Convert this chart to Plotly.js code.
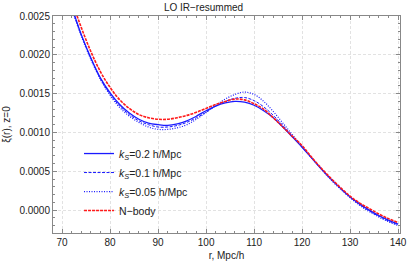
<!DOCTYPE html>
<html>
<head>
<meta charset="utf-8">
<script src="https://cdn.plot.ly/plotly-3.0.1.min.js"></script>
<style>html,body{margin:0;padding:0;background:#fff;}#plot{width:407px;height:265px;}</style>
</head>
<body>
<div id="plot"></div>
<script>
const r = [72,74,76,78,80,82,84,86,88,90,92,94,96,98,100,102,104,106,108,110,112,114,116,118,120,122,124,126,128,130,132,134,136,138,140];
const xiK02 = [0.00262,0.00226,0.00196,0.00170,0.00151,0.00136,0.00125,0.00117,0.00112,0.00110,0.00109,0.00111,0.00115,0.00121,0.00128,0.00134,0.00138,0.00140,0.00139,0.00135,0.00128,0.00119,0.00107,0.00094,0.00081,0.00067,0.00053,0.00040,0.00028,0.00017,0.00008,0.00000,-0.00007,-0.00013,-0.00018];
const xiK01 = [0.00261,0.00225,0.00195,0.00169,0.00149,0.00134,0.00123,0.00115,0.00110,0.00107,0.00107,0.00109,0.00113,0.00119,0.00126,0.00134,0.00140,0.00144,0.00145,0.00141,0.00133,0.00122,0.00109,0.00095,0.00081,0.00067,0.00053,0.00040,0.00028,0.00017,0.00007,-0.00001,-0.00008,-0.00014,-0.00019];
const xiK005 = [0.00260,0.00224,0.00194,0.00168,0.00148,0.00132,0.00121,0.00113,0.00107,0.00104,0.00104,0.00106,0.00110,0.00117,0.00126,0.00135,0.00143,0.00149,0.00152,0.00149,0.00140,0.00127,0.00112,0.00097,0.00082,0.00067,0.00053,0.00039,0.00027,0.00016,0.00006,-0.00002,-0.00009,-0.00015,-0.00020];
const xiNbody = [0.00270,0.00235,0.00204,0.00178,0.00158,0.00142,0.00131,0.00123,0.00119,0.00117,0.00117,0.00119,0.00122,0.00126,0.00131,0.00136,0.00140,0.00143,0.00142,0.00137,0.00130,0.00119,0.00107,0.00095,0.00083,0.00068,0.00054,0.00041,0.00029,0.00018,0.00009,0.00002,-0.00005,-0.00011,-0.00016];
const names = ['<i>k<sub>S</sub></i>=0.2 h/Mpc','<i>k<sub>S</sub></i>=0.1 h/Mpc','<i>k<sub>S</sub></i>=0.05 h/Mpc','N\u2212body'];
const xTicks = [70,80,90,100,110,120,130,140];
const yTicks = [0,0.0005,0.001,0.0015,0.002,0.0025];

const blue = '#1a1aff';
const traces = [
  {x:r, y:xiK02, name:names[0], legendgroup:'a', mode:'lines', line:{color:blue, width:1.3, shape:'spline'}},
  {x:r, y:xiK01, name:names[1], legendgroup:'b', mode:'lines', line:{color:blue, width:1, dash:'3px,1.5px', shape:'spline'}},
  {x:r, y:xiK005, name:names[2], legendgroup:'c', mode:'lines', line:{color:blue, width:1.2, dash:'1px,1.5px', shape:'spline'}},
  {x:r, y:xiNbody, name:names[3], legendgroup:'d', mode:'lines', line:{color:'#ff1a1a', width:1.6, dash:'3px,1px', shape:'spline'}}
];
const axBase = {
  showline:true, linecolor:'#888', linewidth:1, mirror:'allticks',
  ticks:'inside', ticklen:4, tickcolor:'#888', tickwidth:1,
  showgrid:true, gridcolor:'#e2e2e2', griddash:'3px,2px', gridwidth:1,
  zeroline:false, tickfont:{size:10, color:'#222', family:'Liberation Sans, Arial, sans-serif'}
};
const layout = {
  width:407, height:265,
  margin:{l:53, r:7, t:16, b:32},
  paper_bgcolor:'#fff', plot_bgcolor:'#fff',
  font:{family:'Liberation Sans, Arial, sans-serif', size:10, color:'#222'},
  title:{text:'LO IR\u2212resummed', x:0.5, xanchor:'center', y:0.985, yanchor:'top', font:{size:10, color:'#222'}},
  xaxis:Object.assign({}, axBase, {range:[68.1,140.4], tickvals:xTicks,
    minor:{dtick:2, ticks:'inside', ticklen:2, tickcolor:'#888', showgrid:false},
    title:{text:'r, Mpc/h', standoff:4, font:{size:10}}}),
  yaxis:Object.assign({}, axBase, {range:[-0.000295,0.0025], tickvals:yTicks, tickformat:'.4f',
    minor:{dtick:0.0001, ticks:'inside', ticklen:2, tickcolor:'#888', showgrid:false},
    title:{text:'\u03be(r), z=0', standoff:6, font:{size:10}}}),
  legend:{x:0.075, y:0.433, xanchor:'left', yanchor:'top', bgcolor:'rgba(0,0,0,0)',
    font:{size:10.5, color:'#222'}, tracegroupgap:0, itemwidth:30},
  showlegend:true
};
Plotly.newPlot('plot', traces, layout, {displayModeBar:false, staticPlot:true});
</script>
</body>
</html>
